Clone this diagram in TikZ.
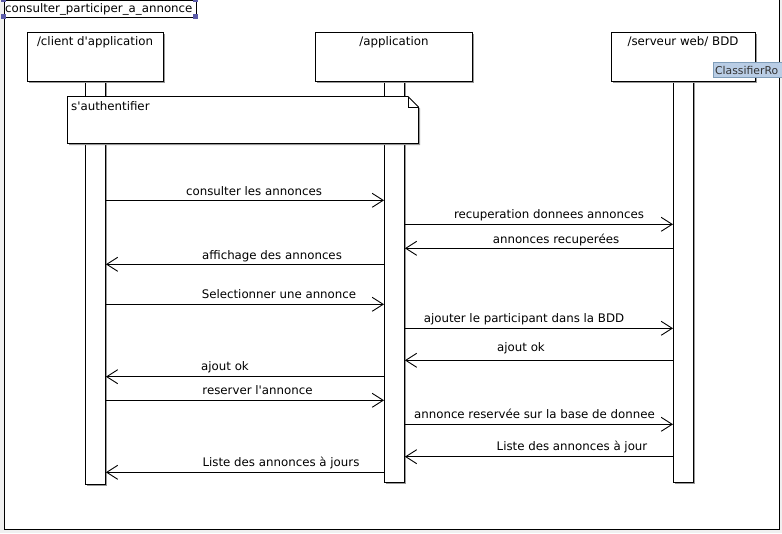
\documentclass[tikz,border=0pt]{standalone}
\usepackage{fontspec}
\setmainfont{DejaVu Sans}[Ligatures=TeXOff]
\usetikzlibrary{arrows.meta,shadows}
\definecolor{bggray}{HTML}{F0F0F0}
\definecolor{tipfill}{HTML}{B9CDE5}
\definecolor{tipdraw}{HTML}{7F9DB9}
\definecolor{handle}{HTML}{5A5AA8}
\begin{document}
\begin{tikzpicture}[x=1pt,y=-1pt,
  txt/.style={font=\fontsize{11.8}{14}\selectfont, inner sep=0pt},
  shad/.style={drop shadow={shadow xshift=1.5pt,shadow yshift=-1.5pt,fill=black!40,opacity=1}},
  headbox/.style={draw=black, fill=white, line width=0.9pt, shad, anchor=north west, inner sep=0pt, rectangle},
  barbox/.style={draw=black, fill=white, line width=0.9pt, shad, anchor=north west, inner sep=0pt, rectangle, minimum width=20pt},
  msg/.style={draw=black, line width=0.9pt, -{Straight Barb[length=11pt,width=14pt,line width=0.9pt]}},
  lbl/.style={txt, anchor=base},
  hnd/.style={fill=handle, draw=none, minimum size=5pt, inner sep=0pt, rectangle},
]
\useasboundingbox (0,0) rectangle (782,533);
\clip (0,0) rectangle (782,533);
% background and frame
\fill[bggray] (0,0) rectangle (782,533);
\draw[fill=white, line width=0.9pt] (4,-3) rectangle (779,529);
% title
\node[draw=black, fill=white, line width=0.9pt, anchor=north west, minimum width=192pt, minimum height=17pt, inner sep=0pt] (title) at (3.5,-0.5) {};
\node[txt, anchor=base west] (titletxt) at (5,12.5) {consulter\_participer\_a\_annonce};
\node[hnd] (h1) at (3.5,-0.5) {};
\node[hnd] (h2) at (195.5,-0.5) {};
\node[hnd] (h3) at (3.5,16.5) {};
\node[hnd] (h4) at (195.5,16.5) {};
% activation bars
\node[barbox, minimum height=403pt] (bc) at (85,81) {};
\node[barbox, minimum height=401pt] (ba) at (384,81) {};
\node[barbox, minimum height=401pt] (bs) at (673,81) {};
% lifeline heads
\node[headbox, minimum width=136pt, minimum height=49pt] (hc) at (27,32) {};
\node[headbox, minimum width=157pt, minimum height=49pt] (ha) at (315,32) {};
\node[headbox, minimum width=144pt, minimum height=49pt] (hs) at (611,32) {};
\node[txt, anchor=base] (hct) at (95,45.5) {/client d'application};
\node[txt, anchor=base] (hat) at (394,45.5) {/application};
\node[txt, anchor=base] (hst) at (683,45.5) {/serveur web/ BDD};
% note
\draw[fill=white, line width=0.9pt, shad] (67.5,96.5) -- (408,96.5) -- (418.5,107) -- (418.5,143.5) -- (67.5,143.5) -- cycle;
\draw[line width=0.9pt] (408,96.5) -- (408,107) -- (418.5,107);
\node[txt, anchor=base west] (note) at (71,110) {s'authentifier};
% message rows
\coordinate (y1) at (0,200.3);
\coordinate (y2) at (0,224.3);
\coordinate (y3) at (0,248.3);
\coordinate (y4) at (0,264.3);
\coordinate (y5) at (0,304.3);
\coordinate (y6) at (0,328.3);
\coordinate (y7) at (0,360.3);
\coordinate (y8) at (0,376.7);
\coordinate (y9) at (0,400.3);
\coordinate (y10) at (0,424.3);
\coordinate (y11) at (0,456.7);
\coordinate (y12) at (0,472.3);
\draw[msg] (bc.east |- y1) -- (ba.west |- y1);
\draw[msg] (ba.east |- y2) -- (bs.west |- y2);
\draw[msg] (bs.west |- y3) -- (ba.east |- y3);
\draw[msg] (ba.west |- y4) -- (bc.east |- y4);
\draw[msg] (bc.east |- y5) -- (ba.west |- y5);
\draw[msg] (ba.east |- y6) -- (bs.west |- y6);
\draw[msg] (bs.west |- y7) -- (ba.east |- y7);
\draw[msg] (ba.west |- y8) -- (bc.east |- y8);
\draw[msg] (bc.east |- y9) -- (ba.west |- y9);
\draw[msg] (ba.east |- y10) -- (bs.west |- y10);
\draw[msg] (bs.west |- y11) -- (ba.east |- y11);
\draw[msg] (ba.west |- y12) -- (bc.east |- y12);
% labels
\node[lbl] (m1) at (254,195.7) {consulter les annonces};
\node[lbl] (m2) at (549,218.5) {recuperation donnees annonces};
\node[lbl] (m3) at (556,243.3) {annonces recuperées};
\node[lbl] (m4) at (272,259) {affichage des annonces};
\node[lbl] (m5) at (279,298.3) {Selectionner une annonce};
\node[lbl] (m6) at (524,322.3) {ajouter le participant dans la BDD};
\node[lbl] (m7) at (521,351.7) {ajout ok};
\node[lbl] (m8) at (225,370.7) {ajout ok};
\node[lbl] (m9) at (257.5,394) {reserver l'annonce};
\node[lbl] (m10) at (534.5,418.3) {annonce reservée sur la base de donnee};
\node[lbl] (m11) at (572,450.7) {Liste des annonces à jour};
\node[lbl] (m12) at (281,466.7) {Liste des annonces à jours};
% tooltip
\node[draw=tipdraw, fill=tipfill, line width=0.8pt, anchor=north west, minimum width=80pt, minimum height=15pt, inner sep=0pt] (tip) at (712.5,62) {};
\node[anchor=base west, inner sep=0pt, font=\fontsize{10.8}{13}\selectfont, text=black!80] (tiptxt) at (715,74) {ClassifierRo};
\end{tikzpicture}
\end{document}
